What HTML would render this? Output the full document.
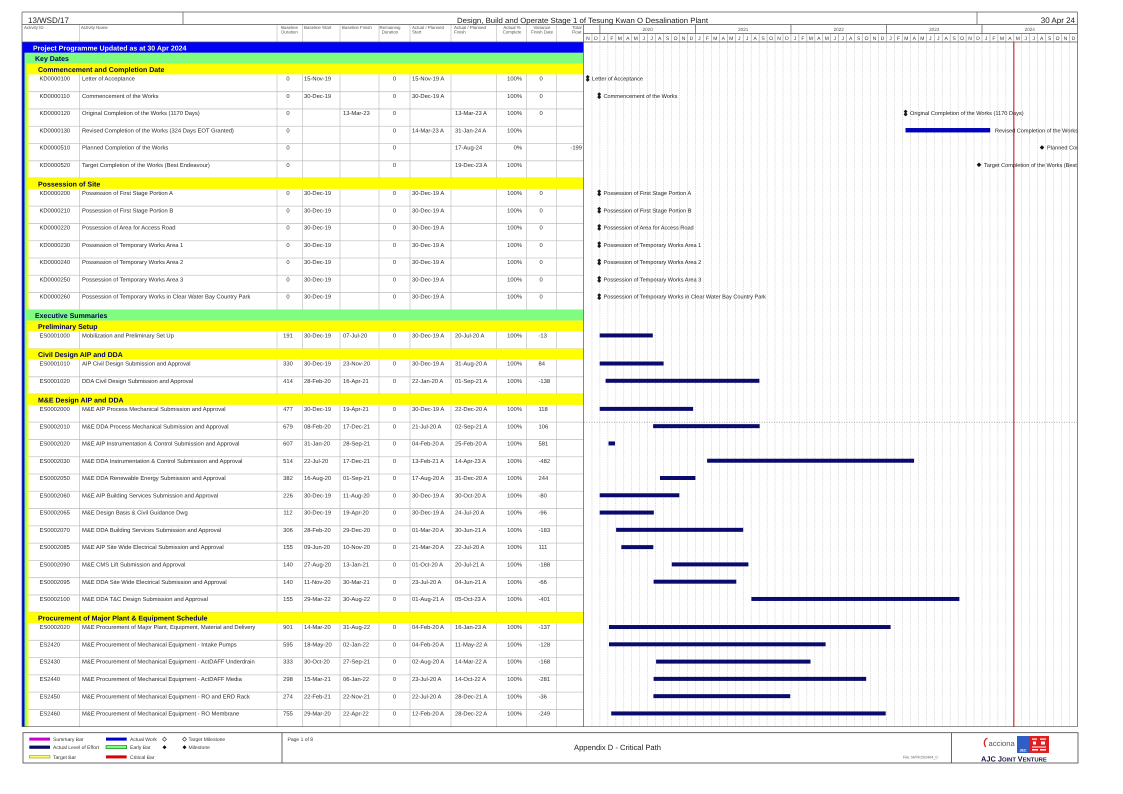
<!DOCTYPE html>
<html><head><meta charset="utf-8"><title>Appendix D - Critical Path</title>
<style>
html,body{margin:0;padding:0;background:#fff;}
svg{display:block}
text{font-family:"Liberation Sans",Arial,sans-serif;text-rendering:geometricPrecision}
.r text{font-size:5.8px;fill:#2a2a2a}
.c{text-anchor:middle}
.e{text-anchor:end}
.bd{font-size:7px;font-weight:bold;fill:#00005a}
.hd{font-size:4.4px;fill:#555}
.ml{font-size:5.6px;fill:#222}
.lg{font-size:5px;fill:#333}
</style></head><body>
<svg width="1123" height="794" viewBox="0 0 1123 794" xmlns="http://www.w3.org/2000/svg">
<defs>
<path id="am" d="M0 -3.4L1.9 -1.6L0.8 -0.2L1.9 1.6L0 3.4L-1.9 1.6L-0.8 -0.2L-1.9 -1.6Z" fill="#1a1a1a"/>
<path id="dm" d="M0 -2.3L2.3 0L0 2.3L-2.3 0Z" fill="#111"/>
<clipPath id="gc"><rect x="584" y="42" width="493.5" height="685"/></clipPath>
</defs>
<rect width="1123" height="794" fill="#fff"/>

<!-- gantt gridlines -->
<path stroke="#b5b5b5" stroke-width="0.5" stroke-dasharray="1.2 1.2" fill="none" d="M591.96 42v684.7M599.92 42v684.7M607.88 42v684.7M615.84 42v684.7M623.8 42v684.7M631.76 42v684.7M639.72 42v684.7M647.68 42v684.7M655.64 42v684.7M663.6 42v684.7M671.56 42v684.7M679.52 42v684.7M687.48 42v684.7M695.44 42v684.7M703.4 42v684.7M711.36 42v684.7M719.32 42v684.7M727.28 42v684.7M735.24 42v684.7M743.2 42v684.7M751.16 42v684.7M759.12 42v684.7M767.08 42v684.7M775.04 42v684.7M783 42v684.7M790.96 42v684.7M798.92 42v684.7M806.88 42v684.7M814.84 42v684.7M822.8 42v684.7M830.76 42v684.7M838.72 42v684.7M846.68 42v684.7M854.64 42v684.7M862.6 42v684.7M870.56 42v684.7M878.52 42v684.7M886.48 42v684.7M894.44 42v684.7M902.4 42v684.7M910.36 42v684.7M918.32 42v684.7M926.28 42v684.7M934.24 42v684.7M942.2 42v684.7M950.16 42v684.7M958.12 42v684.7M966.08 42v684.7M974.04 42v684.7M982 42v684.7M989.96 42v684.7M997.92 42v684.7M1005.88 42v684.7M1013.84 42v684.7M1021.8 42v684.7M1029.76 42v684.7M1037.72 42v684.7M1045.68 42v684.7M1053.64 42v684.7M1061.6 42v684.7M1069.56 42v684.7"/>

<!-- table row separators -->
<path stroke="#c6c6c6" stroke-width="0.8" fill="none" d="M28.5 91.68H583.5M28.5 108.96H583.5M28.5 126.24H583.5M28.5 143.52H583.5M28.5 160.8H583.5M28.5 178.08H583.5M28.5 206.16H583.5M28.5 223.44H583.5M28.5 240.72H583.5M28.5 258H583.5M28.5 275.28H583.5M28.5 292.56H583.5M28.5 309.84H583.5M28.5 348.72H583.5M28.5 376.8H583.5M28.5 394.08H583.5M28.5 422.16H583.5M28.5 439.44H583.5M28.5 456.72H583.5M28.5 474H583.5M28.5 491.28H583.5M28.5 508.56H583.5M28.5 525.84H583.5M28.5 543.12H583.5M28.5 560.4H583.5M28.5 577.68H583.5M28.5 594.96H583.5M28.5 612.24H583.5M28.5 640.32H583.5M28.5 657.6H583.5M28.5 674.88H583.5M28.5 692.16H583.5M28.5 709.44H583.5"/>
<!-- column lines -->
<path stroke="#b8b8b8" stroke-width="0.6" fill="none" d="M79.3 24.5V726.7M277 24.5V726.7M302.3 24.5V726.7M340 24.5V726.7M379 24.5V726.7M410 24.5V726.7M451 24.5V726.7M496.7 24.5V726.7M526.7 24.5V726.7M556.7 24.5V726.7"/>

<!-- strips and bands -->
<rect x="22" y="42" width="2.5" height="684.7" fill="#0000ee"/>
<rect x="24.5" y="52.8" width="2" height="673.9" fill="#80fc80"/>
<rect x="26.5" y="63.6" width="2" height="663.1" fill="#ffff00"/>
<rect x="22" y="42" width="561.5" height="10.8" fill="#0000f5"/>
<rect x="24.5" y="52.8" width="559" height="10.8" fill="#80fc80"/>
<rect x="26.5" y="63.6" width="557" height="10.8" fill="#ffff00"/>
<rect x="26.5" y="178.08" width="557" height="10.8" fill="#ffff00"/>
<rect x="24.5" y="309.84" width="559" height="10.8" fill="#80fc80"/>
<rect x="26.5" y="320.64" width="557" height="10.8" fill="#ffff00"/>
<rect x="26.5" y="348.72" width="557" height="10.8" fill="#ffff00"/>
<rect x="26.5" y="394.08" width="557" height="10.8" fill="#ffff00"/>
<rect x="26.5" y="612.24" width="557" height="10.8" fill="#ffff00"/>

<text x="33" y="50.3" font-size="7" font-weight="bold" fill="#ffffe6">Project Programme Updated as at 30 Apr 2024</text>
<text class="bd" x="35" y="61.1">Key Dates</text>
<text class="bd" x="38" y="71.9">Commencement and Completion Date</text>
<text class="bd" x="38" y="186.4">Possession of Site</text>
<text class="bd" x="35" y="318.1">Executive Summaries</text>
<text class="bd" x="38" y="328.9">Preliminary Setup</text>
<text class="bd" x="38" y="357">Civil Design AIP and DDA</text>
<text class="bd" x="38" y="402.4">M&amp;E Design AIP and DDA</text>
<text class="bd" x="38" y="620.5">Procurement of Major Plant &amp; Equipment Schedule</text>

<!-- frame -->
<path stroke="#555" stroke-width="0.7" fill="none" d="M22 12H1077.5M22 24.5H1077.5M22 42H1077.5M22 12V726.7M1077.5 12V726.7M22 726.7H1077.5M183 12V24.5M977 12V24.5M583.5 24.5V726.7M583.5 33.5H1077.5M599.92 24.5V33.5M695.44 24.5V33.5M790.96 24.5V33.5M886.48 24.5V33.5M982 24.5V33.5"/>
<path stroke="#888" stroke-width="0.5" fill="none" d="M591.96 33.5v8.5M599.92 33.5v8.5M607.88 33.5v8.5M615.84 33.5v8.5M623.8 33.5v8.5M631.76 33.5v8.5M639.72 33.5v8.5M647.68 33.5v8.5M655.64 33.5v8.5M663.6 33.5v8.5M671.56 33.5v8.5M679.52 33.5v8.5M687.48 33.5v8.5M695.44 33.5v8.5M703.4 33.5v8.5M711.36 33.5v8.5M719.32 33.5v8.5M727.28 33.5v8.5M735.24 33.5v8.5M743.2 33.5v8.5M751.16 33.5v8.5M759.12 33.5v8.5M767.08 33.5v8.5M775.04 33.5v8.5M783 33.5v8.5M790.96 33.5v8.5M798.92 33.5v8.5M806.88 33.5v8.5M814.84 33.5v8.5M822.8 33.5v8.5M830.76 33.5v8.5M838.72 33.5v8.5M846.68 33.5v8.5M854.64 33.5v8.5M862.6 33.5v8.5M870.56 33.5v8.5M878.52 33.5v8.5M886.48 33.5v8.5M894.44 33.5v8.5M902.4 33.5v8.5M910.36 33.5v8.5M918.32 33.5v8.5M926.28 33.5v8.5M934.24 33.5v8.5M942.2 33.5v8.5M950.16 33.5v8.5M958.12 33.5v8.5M966.08 33.5v8.5M974.04 33.5v8.5M982 33.5v8.5M989.96 33.5v8.5M997.92 33.5v8.5M1005.88 33.5v8.5M1013.84 33.5v8.5M1021.8 33.5v8.5M1029.76 33.5v8.5M1037.72 33.5v8.5M1045.68 33.5v8.5M1053.64 33.5v8.5M1061.6 33.5v8.5M1069.56 33.5v8.5"/>

<!-- title row -->
<text x="28" y="23" font-size="8" fill="#222">13/WSD/17</text>
<text x="457" y="23" font-size="7.6" fill="#222" textLength="251" lengthAdjust="spacingAndGlyphs">Design, Build and Operate Stage 1 of Tesung Kwan O Desalination Plant</text>
<text x="1075" y="23" font-size="8" fill="#222" text-anchor="end">30 Apr 24</text>

<!-- column headers -->
<text class="hd" x="24" y="28.8">Activity ID</text>
<text class="hd" x="81" y="28.8">Activity Name</text>
<text class="hd c" x="289.5" y="28.8">Baseline</text><text class="hd c" x="289.5" y="33.3">Duration</text>
<text class="hd" x="304" y="28.8">Baseline Start</text>
<text class="hd" x="342" y="28.8">Baseline Finish</text>
<text class="hd c" x="390" y="28.8">Remaining</text><text class="hd c" x="390" y="33.3">Duration</text>
<text class="hd" x="412" y="28.8">Actual / Planned</text><text class="hd" x="412" y="33.3">Start</text>
<text class="hd" x="454" y="28.8">Actual / Planned</text><text class="hd" x="454" y="33.3">Finish</text>
<text class="hd c" x="512" y="28.8">Actual %</text><text class="hd c" x="512" y="33.3">Complete</text>
<text class="hd c" x="542" y="28.8">Variance</text><text class="hd c" x="542" y="33.3">Finish Date</text>
<text class="hd e" x="581.5" y="28.8">Total</text><text class="hd e" x="581.5" y="33.3">Float</text>

<!-- timeline header -->
<g font-size="4.6" fill="#555" text-anchor="middle">
<text x="647.68" y="31.2">2020</text><text x="743.2" y="31.2">2021</text><text x="838.72" y="31.2">2022</text><text x="934.24" y="31.2">2023</text><text x="1029.76" y="31.2">2024</text>
</g>
<text font-size="5" fill="#333" text-anchor="middle" y="40" x="587.98 595.94 603.9 611.86 619.82 627.78 635.74 643.7 651.66 659.62 667.58 675.54 683.5 691.46 699.42 707.38 715.34 723.3 731.26 739.22 747.18 755.14 763.1 771.06 779.02 786.98 794.94 802.9 810.86 818.82 826.78 834.74 842.7 850.66 858.62 866.58 874.54 882.5 890.46 898.42 906.38 914.34 922.3 930.26 938.22 946.18 954.14 962.1 970.06 978.02 985.98 993.94 1001.9 1009.86 1017.82 1025.78 1033.74 1041.7 1049.66 1057.62 1065.58 1073.54">NDJFMAMJJASONDJFMAMJJASONDJFMAMJJASONDJFMAMJJASONDJFMAMJJASOND</text>

<!-- Key dates rows -->
<g class="r" transform="translate(0,74.4)"><text x="39.5" y="6.1">KD0000100</text><text x="82" y="6.1">Letter of Acceptance</text><text class="c" x="288" y="6.1">0</text><text x="304" y="6.1">15-Nov-19</text><text class="c" x="394.5" y="6.1">0</text><text x="412" y="6.1">15-Nov-19 A</text><text class="e" x="522" y="6.1">100%</text><text x="539.5" y="6.1">0</text></g>
<g class="r" transform="translate(0,91.68)"><text x="39.5" y="6.1">KD0000110</text><text x="82" y="6.1">Commencement of the Works</text><text class="c" x="288" y="6.1">0</text><text x="304" y="6.1">30-Dec-19</text><text class="c" x="394.5" y="6.1">0</text><text x="412" y="6.1">30-Dec-19 A</text><text class="e" x="522" y="6.1">100%</text><text x="539.5" y="6.1">0</text></g>
<g class="r" transform="translate(0,108.96)"><text x="39.5" y="6.1">KD0000120</text><text x="82" y="6.1">Original Completion of the Works (1170 Days)</text><text class="c" x="288" y="6.1">0</text><text x="343" y="6.1">13-Mar-23</text><text class="c" x="394.5" y="6.1">0</text><text x="455" y="6.1">13-Mar-23 A</text><text class="e" x="522" y="6.1">100%</text><text x="539.5" y="6.1">0</text></g>
<g class="r" transform="translate(0,126.24)"><text x="39.5" y="6.1">KD0000130</text><text x="82" y="6.1">Revised Completion of the Works (324 Days EOT Granted)</text><text class="c" x="288" y="6.1">0</text><text class="c" x="394.5" y="6.1">0</text><text x="412" y="6.1">14-Mar-23 A</text><text x="455" y="6.1">31-Jan-24 A</text><text class="e" x="522" y="6.1">100%</text></g>
<g class="r" transform="translate(0,143.52)"><text x="39.5" y="6.1">KD0000510</text><text x="82" y="6.1">Planned Completion of the Works</text><text class="c" x="288" y="6.1">0</text><text class="c" x="394.5" y="6.1">0</text><text x="455" y="6.1">17-Aug-24</text><text class="e" x="522" y="6.1">0%</text><text class="e" x="582" y="6.1">-199</text></g>
<g class="r" transform="translate(0,160.8)"><text x="39.5" y="6.1">KD0000520</text><text x="82" y="6.1">Target Completion of the Works (Best Endeavour)</text><text class="c" x="288" y="6.1">0</text><text class="c" x="394.5" y="6.1">0</text><text x="455" y="6.1">19-Dec-23 A</text><text class="e" x="522" y="6.1">100%</text></g>

<!-- Possession rows -->
<g class="r" transform="translate(0,188.88)"><text x="39.5" y="6.1">KD0000200</text><text x="82" y="6.1">Possession of First Stage Portion A</text><text class="c" x="288" y="6.1">0</text><text x="304" y="6.1">30-Dec-19</text><text class="c" x="394.5" y="6.1">0</text><text x="412" y="6.1">30-Dec-19 A</text><text class="e" x="522" y="6.1">100%</text><text x="539.5" y="6.1">0</text></g>
<g class="r" transform="translate(0,206.16)"><text x="39.5" y="6.1">KD0000210</text><text x="82" y="6.1">Possession of First Stage Portion B</text><text class="c" x="288" y="6.1">0</text><text x="304" y="6.1">30-Dec-19</text><text class="c" x="394.5" y="6.1">0</text><text x="412" y="6.1">30-Dec-19 A</text><text class="e" x="522" y="6.1">100%</text><text x="539.5" y="6.1">0</text></g>
<g class="r" transform="translate(0,223.44)"><text x="39.5" y="6.1">KD0000220</text><text x="82" y="6.1">Possession of Area for Access Road</text><text class="c" x="288" y="6.1">0</text><text x="304" y="6.1">30-Dec-19</text><text class="c" x="394.5" y="6.1">0</text><text x="412" y="6.1">30-Dec-19 A</text><text class="e" x="522" y="6.1">100%</text><text x="539.5" y="6.1">0</text></g>
<g class="r" transform="translate(0,240.72)"><text x="39.5" y="6.1">KD0000230</text><text x="82" y="6.1">Possession of Temporary Works Area 1</text><text class="c" x="288" y="6.1">0</text><text x="304" y="6.1">30-Dec-19</text><text class="c" x="394.5" y="6.1">0</text><text x="412" y="6.1">30-Dec-19 A</text><text class="e" x="522" y="6.1">100%</text><text x="539.5" y="6.1">0</text></g>
<g class="r" transform="translate(0,258)"><text x="39.5" y="6.1">KD0000240</text><text x="82" y="6.1">Possession of Temporary Works Area 2</text><text class="c" x="288" y="6.1">0</text><text x="304" y="6.1">30-Dec-19</text><text class="c" x="394.5" y="6.1">0</text><text x="412" y="6.1">30-Dec-19 A</text><text class="e" x="522" y="6.1">100%</text><text x="539.5" y="6.1">0</text></g>
<g class="r" transform="translate(0,275.28)"><text x="39.5" y="6.1">KD0000250</text><text x="82" y="6.1">Possession of Temporary Works Area 3</text><text class="c" x="288" y="6.1">0</text><text x="304" y="6.1">30-Dec-19</text><text class="c" x="394.5" y="6.1">0</text><text x="412" y="6.1">30-Dec-19 A</text><text class="e" x="522" y="6.1">100%</text><text x="539.5" y="6.1">0</text></g>
<g class="r" transform="translate(0,292.56)"><text x="39.5" y="6.1">KD0000260</text><text x="82" y="6.1">Possession of Temporary Works in Clear Water Bay Country Park</text><text class="c" x="288" y="6.1">0</text><text x="304" y="6.1">30-Dec-19</text><text class="c" x="394.5" y="6.1">0</text><text x="412" y="6.1">30-Dec-19 A</text><text class="e" x="522" y="6.1">100%</text><text x="539.5" y="6.1">0</text></g>

<!-- Executive summary rows -->
<g class="r" transform="translate(0,331.44)"><text x="39.5" y="6.1">ES0001000</text><text x="82" y="6.1">Mobilization and Preliminary Set Up</text><text class="c" x="288" y="6.1">191</text><text x="304" y="6.1">30-Dec-19</text><text x="343" y="6.1">07-Jul-20</text><text class="c" x="394.5" y="6.1">0</text><text x="412" y="6.1">30-Dec-19 A</text><text x="455" y="6.1">20-Jul-20 A</text><text class="e" x="522" y="6.1">100%</text><text x="538.5" y="6.1">-13</text><rect x="599.7" y="2" width="53.1" height="4" fill="#0b0b6e"/></g>
<g class="r" transform="translate(0,359.52)"><text x="39.5" y="6.1">ES0001010</text><text x="82" y="6.1">AIP Civil Design Submission and Approval</text><text class="c" x="288" y="6.1">330</text><text x="304" y="6.1">30-Dec-19</text><text x="343" y="6.1">23-Nov-20</text><text class="c" x="394.5" y="6.1">0</text><text x="412" y="6.1">30-Dec-19 A</text><text x="455" y="6.1">31-Aug-20 A</text><text class="e" x="522" y="6.1">100%</text><text x="538.5" y="6.1">84</text><rect x="599.7" y="2" width="63.9" height="4" fill="#0b0b6e"/></g>
<g class="r" transform="translate(0,376.8)"><text x="39.5" y="6.1">ES0001020</text><text x="82" y="6.1">DDA Civil Design Submission and Approval</text><text class="c" x="288" y="6.1">414</text><text x="304" y="6.1">28-Feb-20</text><text x="343" y="6.1">16-Apr-21</text><text class="c" x="394.5" y="6.1">0</text><text x="412" y="6.1">22-Jan-20 A</text><text x="455" y="6.1">01-Sep-21 A</text><text class="e" x="522" y="6.1">100%</text><text x="538.5" y="6.1">-138</text><rect x="605.6" y="2" width="153.8" height="4" fill="#0b0b6e"/></g>

<!-- M&E rows -->
<g class="r" transform="translate(0,404.88)"><text x="39.5" y="6.1">ES0002000</text><text x="82" y="6.1">M&amp;E AIP Process Mechanical Submission and Approval</text><text class="c" x="288" y="6.1">477</text><text x="304" y="6.1">30-Dec-19</text><text x="343" y="6.1">19-Apr-21</text><text class="c" x="394.5" y="6.1">0</text><text x="412" y="6.1">30-Dec-19 A</text><text x="455" y="6.1">22-Dec-20 A</text><text class="e" x="522" y="6.1">100%</text><text x="538.5" y="6.1">118</text><rect x="599.7" y="2" width="93.4" height="4" fill="#0b0b6e"/></g>
<g class="r" transform="translate(0,422.16)"><text x="39.5" y="6.1">ES0002010</text><text x="82" y="6.1">M&amp;E DDA Process Mechanical Submission and Approval</text><text class="c" x="288" y="6.1">679</text><text x="304" y="6.1">08-Feb-20</text><text x="343" y="6.1">17-Dec-21</text><text class="c" x="394.5" y="6.1">0</text><text x="412" y="6.1">21-Jul-20 A</text><text x="455" y="6.1">02-Sep-21 A</text><text class="e" x="522" y="6.1">100%</text><text x="538.5" y="6.1">106</text><rect x="653.1" y="2" width="106.6" height="4" fill="#0b0b6e"/></g>
<g class="r" transform="translate(0,439.44)"><text x="39.5" y="6.1">ES0002020</text><text x="82" y="6.1">M&amp;E AIP Instrumentation &amp; Control Submission and Approval</text><text class="c" x="288" y="6.1">607</text><text x="304" y="6.1">31-Jan-20</text><text x="343" y="6.1">28-Sep-21</text><text class="c" x="394.5" y="6.1">0</text><text x="412" y="6.1">04-Feb-20 A</text><text x="455" y="6.1">25-Feb-20 A</text><text class="e" x="522" y="6.1">100%</text><text x="538.5" y="6.1">581</text><rect x="608.5" y="2" width="6.5" height="4" fill="#0b0b6e"/></g>
<g class="r" transform="translate(0,456.72)"><text x="39.5" y="6.1">ES0002030</text><text x="82" y="6.1">M&amp;E DDA Instrumentation &amp; Control Submission and Approval</text><text class="c" x="288" y="6.1">514</text><text x="304" y="6.1">22-Jul-20</text><text x="343" y="6.1">17-Dec-21</text><text class="c" x="394.5" y="6.1">0</text><text x="412" y="6.1">13-Feb-21 A</text><text x="455" y="6.1">14-Apr-23 A</text><text class="e" x="522" y="6.1">100%</text><text x="538.5" y="6.1">-482</text><rect x="707.1" y="2" width="207" height="4" fill="#0b0b6e"/></g>
<g class="r" transform="translate(0,474)"><text x="39.5" y="6.1">ES0002050</text><text x="82" y="6.1">M&amp;E DDA Renewable Energy Submission and Approval</text><text class="c" x="288" y="6.1">382</text><text x="304" y="6.1">16-Aug-20</text><text x="343" y="6.1">01-Sep-21</text><text class="c" x="394.5" y="6.1">0</text><text x="412" y="6.1">17-Aug-20 A</text><text x="455" y="6.1">31-Dec-20 A</text><text class="e" x="522" y="6.1">100%</text><text x="538.5" y="6.1">244</text><rect x="660" y="2" width="35.4" height="4" fill="#0b0b6e"/></g>
<g class="r" transform="translate(0,491.28)"><text x="39.5" y="6.1">ES0002060</text><text x="82" y="6.1">M&amp;E AIP Building Services Submission and Approval</text><text class="c" x="288" y="6.1">226</text><text x="304" y="6.1">30-Dec-19</text><text x="343" y="6.1">11-Aug-20</text><text class="c" x="394.5" y="6.1">0</text><text x="412" y="6.1">30-Dec-19 A</text><text x="455" y="6.1">30-Oct-20 A</text><text class="e" x="522" y="6.1">100%</text><text x="538.5" y="6.1">-80</text><rect x="599.7" y="2" width="79.6" height="4" fill="#0b0b6e"/></g>
<g class="r" transform="translate(0,508.56)"><text x="39.5" y="6.1">ES0002065</text><text x="82" y="6.1">M&amp;E Design Basis &amp; Civil Guidance Dwg</text><text class="c" x="288" y="6.1">112</text><text x="304" y="6.1">30-Dec-19</text><text x="343" y="6.1">19-Apr-20</text><text class="c" x="394.5" y="6.1">0</text><text x="412" y="6.1">30-Dec-19 A</text><text x="455" y="6.1">24-Jul-20 A</text><text class="e" x="522" y="6.1">100%</text><text x="538.5" y="6.1">-96</text><rect x="599.7" y="2" width="54.1" height="4" fill="#0b0b6e"/></g>
<g class="r" transform="translate(0,525.84)"><text x="39.5" y="6.1">ES0002070</text><text x="82" y="6.1">M&amp;E DDA Building Services Submission and Approval</text><text class="c" x="288" y="6.1">306</text><text x="304" y="6.1">28-Feb-20</text><text x="343" y="6.1">29-Dec-20</text><text class="c" x="394.5" y="6.1">0</text><text x="412" y="6.1">01-Mar-20 A</text><text x="455" y="6.1">30-Jun-21 A</text><text class="e" x="522" y="6.1">100%</text><text x="538.5" y="6.1">-183</text><rect x="616.1" y="2" width="127.1" height="4" fill="#0b0b6e"/></g>
<g class="r" transform="translate(0,543.12)"><text x="39.5" y="6.1">ES0002085</text><text x="82" y="6.1">M&amp;E AIP Site Wide Electrical Submission and Approval</text><text class="c" x="288" y="6.1">155</text><text x="304" y="6.1">09-Jun-20</text><text x="343" y="6.1">10-Nov-20</text><text class="c" x="394.5" y="6.1">0</text><text x="412" y="6.1">21-Mar-20 A</text><text x="455" y="6.1">22-Jul-20 A</text><text class="e" x="522" y="6.1">100%</text><text x="538.5" y="6.1">111</text><rect x="621.3" y="2" width="32" height="4" fill="#0b0b6e"/></g>
<g class="r" transform="translate(0,560.4)"><text x="39.5" y="6.1">ES0002090</text><text x="82" y="6.1">M&amp;E CMS Lift Submission and Approval</text><text class="c" x="288" y="6.1">140</text><text x="304" y="6.1">27-Aug-20</text><text x="343" y="6.1">13-Jan-21</text><text class="c" x="394.5" y="6.1">0</text><text x="412" y="6.1">01-Oct-20 A</text><text x="455" y="6.1">20-Jul-21 A</text><text class="e" x="522" y="6.1">100%</text><text x="538.5" y="6.1">-188</text><rect x="671.8" y="2" width="76.6" height="4" fill="#0b0b6e"/></g>
<g class="r" transform="translate(0,577.68)"><text x="39.5" y="6.1">ES0002095</text><text x="82" y="6.1">M&amp;E DDA Site Wide Electrical Submission and Approval</text><text class="c" x="288" y="6.1">140</text><text x="304" y="6.1">11-Nov-20</text><text x="343" y="6.1">30-Mar-21</text><text class="c" x="394.5" y="6.1">0</text><text x="412" y="6.1">23-Jul-20 A</text><text x="455" y="6.1">04-Jun-21 A</text><text class="e" x="522" y="6.1">100%</text><text x="538.5" y="6.1">-66</text><rect x="653.6" y="2" width="82.7" height="4" fill="#0b0b6e"/></g>
<g class="r" transform="translate(0,594.96)"><text x="39.5" y="6.1">ES0002100</text><text x="82" y="6.1">M&amp;E DDA T&amp;C Design Submission and Approval</text><text class="c" x="288" y="6.1">155</text><text x="304" y="6.1">29-Mar-22</text><text x="343" y="6.1">30-Aug-22</text><text class="c" x="394.5" y="6.1">0</text><text x="412" y="6.1">01-Aug-21 A</text><text x="455" y="6.1">05-Oct-23 A</text><text class="e" x="522" y="6.1">100%</text><text x="538.5" y="6.1">-401</text><rect x="751.4" y="2" width="208" height="4" fill="#0b0b6e"/></g>

<!-- Procurement rows -->
<g class="r" transform="translate(0,623.04)"><text x="39.5" y="6.1">ES0002020</text><text x="82" y="6.1">M&amp;E Procurement of Major Plant, Equipment, Material and Delivery</text><text class="c" x="288" y="6.1">901</text><text x="304" y="6.1">14-Mar-20</text><text x="343" y="6.1">31-Aug-22</text><text class="c" x="394.5" y="6.1">0</text><text x="412" y="6.1">04-Feb-20 A</text><text x="455" y="6.1">16-Jan-23 A</text><text class="e" x="522" y="6.1">100%</text><text x="538.5" y="6.1">-137</text><rect x="609" y="2" width="281.6" height="4" fill="#0b0b6e"/></g>
<g class="r" transform="translate(0,640.32)"><text x="39.5" y="6.1">ES2420</text><text x="82" y="6.1">M&amp;E Procurement of Mechanical Equipment - Intake Pumps</text><text class="c" x="288" y="6.1">595</text><text x="304" y="6.1">18-May-20</text><text x="343" y="6.1">02-Jan-22</text><text class="c" x="394.5" y="6.1">0</text><text x="412" y="6.1">04-Feb-20 A</text><text x="455" y="6.1">11-May-22 A</text><text class="e" x="522" y="6.1">100%</text><text x="538.5" y="6.1">-128</text><rect x="609" y="2" width="216.6" height="4" fill="#0b0b6e"/></g>
<g class="r" transform="translate(0,657.6)"><text x="39.5" y="6.1">ES2430</text><text x="82" y="6.1">M&amp;E Procurement of Mechanical Equipment - ActDAFF Underdrain</text><text class="c" x="288" y="6.1">333</text><text x="304" y="6.1">30-Oct-20</text><text x="343" y="6.1">27-Sep-21</text><text class="c" x="394.5" y="6.1">0</text><text x="412" y="6.1">02-Aug-20 A</text><text x="455" y="6.1">14-Mar-22 A</text><text class="e" x="522" y="6.1">100%</text><text x="538.5" y="6.1">-168</text><rect x="656.1" y="2" width="154.4" height="4" fill="#0b0b6e"/></g>
<g class="r" transform="translate(0,674.88)"><text x="39.5" y="6.1">ES2440</text><text x="82" y="6.1">M&amp;E Procurement of Mechanical Equipment - ActDAFF Media</text><text class="c" x="288" y="6.1">298</text><text x="304" y="6.1">15-Mar-21</text><text x="343" y="6.1">06-Jan-22</text><text class="c" x="394.5" y="6.1">0</text><text x="412" y="6.1">23-Jul-20 A</text><text x="455" y="6.1">14-Oct-22 A</text><text class="e" x="522" y="6.1">100%</text><text x="538.5" y="6.1">-281</text><rect x="653.6" y="2" width="212.6" height="4" fill="#0b0b6e"/></g>
<g class="r" transform="translate(0,692.16)"><text x="39.5" y="6.1">ES2450</text><text x="82" y="6.1">M&amp;E Procurement of Mechanical Equipment - RO and ERD Rack</text><text class="c" x="288" y="6.1">274</text><text x="304" y="6.1">22-Feb-21</text><text x="343" y="6.1">22-Nov-21</text><text class="c" x="394.5" y="6.1">0</text><text x="412" y="6.1">22-Jul-20 A</text><text x="455" y="6.1">28-Dec-21 A</text><text class="e" x="522" y="6.1">100%</text><text x="538.5" y="6.1">-36</text><rect x="653.4" y="2" width="136.8" height="4" fill="#0b0b6e"/></g>
<g class="r" transform="translate(0,709.44)"><text x="39.5" y="6.1">ES2460</text><text x="82" y="6.1">M&amp;E Procurement of Mechanical Equipment - RO Membrane</text><text class="c" x="288" y="6.1">755</text><text x="304" y="6.1">29-Mar-20</text><text x="343" y="6.1">22-Apr-22</text><text class="c" x="394.5" y="6.1">0</text><text x="412" y="6.1">12-Feb-20 A</text><text x="455" y="6.1">28-Dec-22 A</text><text class="e" x="522" y="6.1">100%</text><text x="538.5" y="6.1">-249</text><rect x="611.2" y="2" width="274.5" height="4" fill="#0b0b6e"/></g>

<!-- dotted page-break line -->
<path d="M584 422.2H1077" stroke="#777" stroke-width="0.6" stroke-dasharray="1 1.5"/>

<!-- red data date line -->
<path d="M1013.84 42V726.7" stroke="#cc0000" stroke-width="1"/>

<!-- milestones -->
<g clip-path="url(#gc)">
<use href="#am" x="587.7" y="78.4"/><text class="ml" x="592" y="80.5">Letter of Acceptance</text>
<use href="#am" x="599.2" y="95.7"/><text class="ml" x="603.5" y="97.8">Commencement of the Works</text>
<use href="#am" x="905.6" y="113"/><text class="ml" x="910" y="115.1">Original Completion of the Works (1170 Days)</text>
<rect x="905.8" y="128.2" width="84.2" height="4" fill="#0000cc" stroke="#000080" stroke-width="0.4"/><text class="ml" x="995" y="132.4">Revised Completion of the Works (324 Days EOT Granted)</text>
<use href="#dm" x="1042" y="147.5"/><text class="ml" x="1047" y="149.6">Planned Completion of the Works</text>
<use href="#dm" x="979" y="164.8"/><text class="ml" x="984" y="166.9">Target Completion of the Works (Best Endeavour)</text>
<use href="#am" x="599.2" y="192.9"/><text class="ml" x="603.5" y="195">Possession of First Stage Portion A</text>
<use href="#am" x="599.2" y="210.2"/><text class="ml" x="603.5" y="212.3">Possession of First Stage Portion B</text>
<use href="#am" x="599.2" y="227.4"/><text class="ml" x="603.5" y="229.5">Possession of Area for Access Road</text>
<use href="#am" x="599.2" y="244.7"/><text class="ml" x="603.5" y="246.8">Possession of Temporary Works Area 1</text>
<use href="#am" x="599.2" y="262"/><text class="ml" x="603.5" y="264.1">Possession of Temporary Works Area 2</text>
<use href="#am" x="599.2" y="279.3"/><text class="ml" x="603.5" y="281.4">Possession of Temporary Works Area 3</text>
<use href="#am" x="599.2" y="296.6"/><text class="ml" x="603.5" y="298.7">Possession of Temporary Works in Clear Water Bay Country Park</text>
</g>

<!-- footer -->
<rect x="23" y="732.7" width="1055" height="30.3" fill="none" stroke="#444" stroke-width="0.8"/>
<path d="M282 732.7V763M951.5 732.7V763" stroke="#444" stroke-width="0.8"/>

<rect x="29.3" y="737.6" width="20.7" height="3" fill="#cc00cc"/>
<rect x="29.3" y="745.6" width="20.7" height="3.2" fill="#0a0a5e"/>
<rect x="29.3" y="755.6" width="20.7" height="2.4" fill="#ffff66" stroke="#808000" stroke-width="0.5"/>
<rect x="106" y="737.6" width="20.7" height="3" fill="#0000cc"/>
<rect x="106" y="745.6" width="20.7" height="3" fill="#80fc80" stroke="#007000" stroke-width="0.6"/>
<rect x="106" y="755.4" width="20.7" height="3" fill="#dd0000"/>
<text class="lg" x="53" y="741">Summary Bar</text>
<text class="lg" x="53" y="749">Actual Level of Effort</text>
<text class="lg" x="53" y="759">Target Bar</text>
<text class="lg" x="130" y="741">Actual Work</text>
<text class="lg" x="130" y="749">Early Bar</text>
<text class="lg" x="130" y="759">Critical Bar</text>
<path d="M164.5 737.2L166.5 739.2L164.5 741.2L162.5 739.2Z" fill="none" stroke="#222" stroke-width="0.6"/>
<path d="M164.5 745.2L166.5 747.2L164.5 749.2L162.5 747.2Z" fill="#111"/>
<path d="M184.5 737.2L186.5 739.2L184.5 741.2L182.5 739.2Z" fill="none" stroke="#222" stroke-width="0.6"/>
<path d="M184.5 745.2L186.5 747.2L184.5 749.2L182.5 747.2Z" fill="#111"/>
<text class="lg" x="188.5" y="741">Target Milestone</text>
<text class="lg" x="188.5" y="749">Milestone</text>

<text class="lg" x="287.5" y="741">Page 1 of 8</text>
<text x="574" y="750" font-size="7.6" fill="#222">Appendix D - Critical Path</text>
<text x="903" y="758.5" font-size="3.8" fill="#666">File: M/PR202404_0</text>

<!-- logo -->
<path d="M987.5 738.3c-3.2 1-4.3 5.2-1.8 8.6" stroke="#d42020" fill="none" stroke-width="1.3"/>
<text x="988.5" y="745.8" font-size="7.6" fill="#555">acciona</text>
<rect x="1017" y="736" width="12" height="17" fill="#2f5fc4"/>
<text x="1023" y="751.6" font-size="3.6" font-weight="bold" fill="#fff" text-anchor="middle">JEC</text>
<rect x="1029" y="736" width="20" height="17" fill="#e02020"/>
<g fill="#fff">
<rect x="1032" y="738.5" width="5" height="1.2"/><rect x="1040" y="738.5" width="6" height="1.2"/>
<rect x="1033" y="741.5" width="3" height="3"/><rect x="1041" y="741.5" width="4" height="3"/>
<rect x="1032" y="746.5" width="14" height="1"/><rect x="1032" y="749" width="6" height="1.5"/><rect x="1040" y="749" width="6" height="1.5"/>
</g>
<text x="981" y="761.6" font-weight="bold" fill="#1a1a50"><tspan font-size="7.4">AJC J</tspan><tspan font-size="5.9">OINT </tspan><tspan font-size="7.4">V</tspan><tspan font-size="5.9">ENTURE</tspan></text>
</svg>
</body></html>
